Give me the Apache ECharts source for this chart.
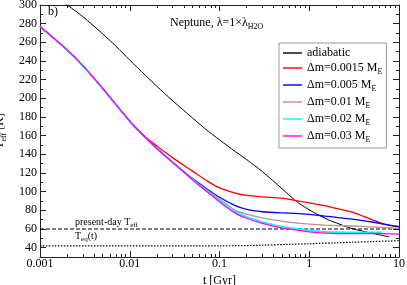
<!DOCTYPE html>
<html><head><meta charset="utf-8">
<script src="https://cdn.jsdelivr.net/npm/echarts@6/dist/echarts.min.js"></script>
<style>html,body{margin:0;padding:0;background:#fff}#c{width:407px;height:285px}</style>
</head><body><div id="c"></div>
<script>
// ---------------- data ----------------
const seriesNames = ['adiabatic', 'Δm=0.0015 M_E', 'Δm=0.005 M_E', 'Δm=0.01 M_E', 'Δm=0.02 M_E', 'Δm=0.03 M_E'];

const tAdiabatic = [0.001, 0.002, 0.003, 0.005, 0.007, 0.01, 0.015, 0.02, 0.03, 0.05, 0.07, 0.1, 0.15, 0.2, 0.3, 0.5, 0.7, 1, 1.5, 2, 3, 5, 7.8];
const adiabatic  = [317, 300, 287.5, 269, 256, 241, 224.5, 213, 197.5, 179, 167, 155.5, 143, 134.5, 121.5, 103, 90.5, 80.5, 71.5, 66.5, 60.5, 55.5, 51.6];

const tGrid   = [0.001, 0.002, 0.003, 0.005, 0.007, 0.01, 0.015, 0.02, 0.03, 0.05, 0.07, 0.1, 0.15, 0.2, 0.3, 0.5, 0.7, 1, 1.5, 2, 3, 5, 7, 10];
const dm0015  = [277, 252, 235, 210.5, 193.5, 175.7, 158.5, 149, 136.5, 122, 112.5, 104, 98.5, 96, 94.5, 93, 90.5, 88, 85, 82, 78, 70, 65, 62.4];
const dm005   = [277, 252, 235, 210.5, 193.5, 175.5, 157.7, 146.5, 131.8, 114, 104, 94, 85, 81, 78.5, 77.2, 76.8, 75.7, 73.8, 72.5, 70.5, 67.5, 65, 62.4];
const dm01    = [277, 252, 235, 210.5, 193.5, 175.5, 157.7, 146.3, 131.5, 113.3, 102.8, 92, 80, 76, 72, 68.5, 66.5, 65.3, 64.2, 63.7, 63.2, 62.2, 61.5, 60.7];
const dm03    = [277, 252, 235, 210.5, 193.5, 175.5, 157.7, 146.3, 131.3, 112.8, 101.1, 89.1, 77, 71.5, 66, 61, 59, 57, 55.5, 55, 55, 55.2, 55, 54.6];

const tDm002  = [0.001, 0.002, 0.003, 0.005, 0.007, 0.01, 0.015, 0.02, 0.03, 0.05, 0.07, 0.1, 0.15, 0.2, 0.3, 0.5, 0.7, 1, 1.5, 2, 3, 5, 6.5];
const dm002   = [277, 252, 235, 210.5, 193.5, 175.5, 157.7, 146.3, 131.3, 112.9, 101.6, 90.3, 78.5, 73, 67.5, 62.5, 60.5, 58.5, 57, 56.6, 56.4, 56.5, 56.5];

const tPresent = [0.001, 10];
const presentDay = [60, 60];

const tEq = [0.001, 0.1, 0.3, 0.6, 1, 2, 3, 5, 10];
const teq = [42, 42, 42.6, 43.6, 44.2, 45.2, 45.8, 46.5, 47.5];

const yTickLabels = [40, 60, 80, 100, 120, 140, 160, 180, 200, 220, 240, 260, 280, 300];
const yMinorTicks = [50, 70, 90, 110, 130, 150, 170, 190, 210, 230, 250, 270, 290];
const xTickLabels = ['0.001', '0.01', '0.1', '1', '10'];

// ---------------- helpers ----------------
const SERIF = "'Liberation Serif','Times New Roman',serif";
const pairs = (xs, ys) => xs.map((x, i) => [x, ys[i]]);
const xMinorLog = [];
for (let n = -3; n <= 0; n++) for (let k = 2; k <= 9; k++) xMinorLog.push(n + Math.log10(k));

const AXC = '#222';
const rich = {
  n: { fontFamily: SERIF, fontSize: 12, color: '#000', lineHeight: 16 },
  s: { fontFamily: SERIF, fontSize: 8, color: '#000', lineHeight: 8, verticalAlign: 'bottom' },
  a: { fontFamily: SERIF, fontSize: 10, color: '#000', lineHeight: 14 },
  b: { fontFamily: SERIF, fontSize: 7, color: '#000', lineHeight: 7, verticalAlign: 'bottom' }
};
function fmtName(name) {
  const m = name.match(/^(.*)_(\w+)$/);
  return m ? '{n|' + m[1] + '}{s|' + m[2] + '}' : '{n|' + name + '}';
}

const lineOn  = { show: true, onZero: false, lineStyle: { color: AXC, width: 1 } };
const lineOff = { show: false, onZero: false };

const baseX = (extra) => Object.assign({ gridIndex: 0, splitLine: { show: false }, axisLine: lineOn }, extra);

const xAxes = [
  baseX({ type: 'log', logBase: 10, min: 0.001, max: 10, position: 'bottom',
    axisTick: { inside: true, length: 6, lineStyle: { color: AXC } },
    axisLabel: { fontFamily: SERIF, fontSize: 12, color: '#000', margin: 1,
      formatter: (v) => { const i = Math.round(Math.log10(v)) + 3; return xTickLabels[i] || ''; } },
    minorTick: { show: false },
    name: '{n|t [Gyr]}', nameLocation: 'middle', nameGap: 9,
    nameTextStyle: { rich: rich } }),
  baseX({ type: 'value', min: -3, max: 1, position: 'bottom', axisLine: lineOff,
    axisTick: { inside: true, length: 3, customValues: xMinorLog, lineStyle: { color: AXC } },
    axisLabel: { show: false } }),
  baseX({ type: 'log', logBase: 10, min: 0.001, max: 10, position: 'top',
    axisTick: { inside: true, length: 6, lineStyle: { color: AXC } },
    axisLabel: { show: false } }),
  baseX({ type: 'value', min: -3, max: 1, position: 'top', axisLine: lineOff,
    axisTick: { inside: true, length: 3, customValues: xMinorLog, lineStyle: { color: AXC } },
    axisLabel: { show: false } })
];

const baseY = (extra) => Object.assign({ gridIndex: 0, type: 'value', min: 30, max: 300, splitLine: { show: false }, axisLine: lineOn }, extra);

const yAxes = [
  baseY({ position: 'left',
    axisTick: { inside: true, length: 6, customValues: yTickLabels, lineStyle: { color: AXC } },
    axisLabel: { customValues: yTickLabels, fontFamily: SERIF, fontSize: 12, color: '#000', margin: 3 },
    name: '{n|T}{s|eff}{n| [K]}', nameLocation: 'middle', nameGap: 23, nameRotate: 90,
    nameTextStyle: { rich: rich } }),
  baseY({ position: 'left', axisLine: lineOff,
    axisTick: { inside: true, length: 3, customValues: yMinorTicks, lineStyle: { color: AXC } },
    axisLabel: { show: false } }),
  baseY({ position: 'right',
    axisTick: { inside: true, length: 6, customValues: yTickLabels, lineStyle: { color: AXC } },
    axisLabel: { show: false } }),
  baseY({ position: 'right', axisLine: lineOff,
    axisTick: { inside: true, length: 3, customValues: yMinorTicks, lineStyle: { color: AXC } },
    axisLabel: { show: false } })
];

const mk = (name, xs, ys, color, width, extra) => Object.assign({
  name: name, type: 'line', xAxisIndex: 0, yAxisIndex: 0,
  data: pairs(xs, ys), symbol: 'none', showSymbol: false, smooth: 0.3, clip: true,
  lineStyle: { color: color, width: width }, itemStyle: { color: color },
  animation: false, silent: true
}, extra || {});

const option = {
  animation: false,
  grid: { left: 40, right: 8, top: 5, bottom: 28, containLabel: false, outerBoundsMode: 'none' },
  xAxis: xAxes,
  yAxis: yAxes,
  legend: {
    data: seriesNames, orient: 'vertical', left: 279, top: 43,
    padding: [4, 4, 4, 4], itemGap: 3, itemWidth: 19, itemHeight: 2, icon: 'rect',
    itemStyle: { opacity: 0.7 },
    borderColor: '#999', borderWidth: 1, borderRadius: 0, selectedMode: false,
    textStyle: { fontFamily: SERIF, fontSize: 12, color: '#000', rich: {
      n: { fontFamily: SERIF, fontSize: 12, color: '#000', lineHeight: 16 },
      s: { fontFamily: SERIF, fontSize: 8, color: '#000', lineHeight: 8, verticalAlign: 'bottom' } } },
    formatter: fmtName
  },
  graphic: [
    { type: 'text', left: 48, top: 6, style: { text: 'b)', font: "12px 'Liberation Serif', serif", fill: '#000' } },
    { type: 'text', left: 170, top: 17, style: { text: '{n|Neptune, λ=1×λ}{s|H2O}', rich: rich } },
    { type: 'text', left: 75, top: 217, style: { text: '{a|present-day T}{b|eff}', rich: rich } },
    { type: 'text', left: 75, top: 231, style: { text: '{a|T}{b|eq}{a|(t)}', rich: rich } }
  ],
  series: [
    mk('present', tPresent, presentDay, '#000', 1, { lineStyle: { color: '#000', width: 1, type: [4, 2] }, smooth: false }),
    mk('teq', tEq, teq, '#000', 1, { lineStyle: { color: '#000', width: 1.2, type: [1.5, 1.5] } }),
    mk(seriesNames[0], tAdiabatic, adiabatic, '#000000', 1),
    mk(seriesNames[1], tGrid, dm0015, '#ff0000', 1.3),
    mk(seriesNames[2], tGrid, dm005, '#0000ff', 1.3),
    mk(seriesNames[3], tGrid, dm01, '#bc8f8f', 1.3),
    mk(seriesNames[4], tDm002, dm002, '#00ffff', 1.6),
    mk(seriesNames[5], tGrid, dm03, '#ff00ff', 1.3)
  ]
};
const chart = echarts.init(document.getElementById('c'), null, { renderer: 'canvas' });
chart.setOption(option);
</script></body></html>
